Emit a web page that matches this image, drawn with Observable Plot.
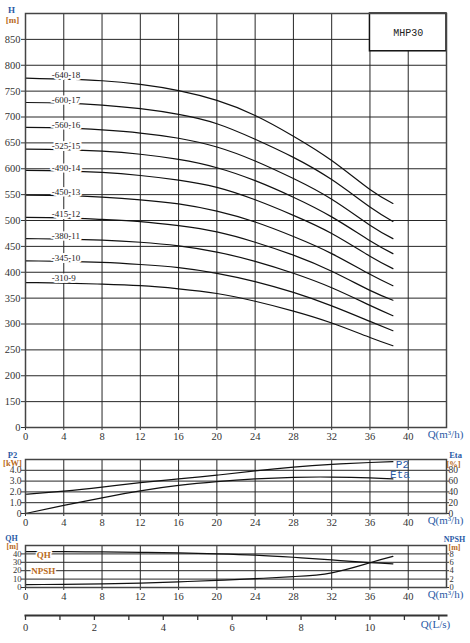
<!DOCTYPE html>
<html><head><meta charset="utf-8">
<script src="https://cdn.jsdelivr.net/npm/d3@7"></script>
<script src="https://cdn.jsdelivr.net/npm/@observablehq/plot@0.6"></script>
<style>
body{margin:0;background:#fff;}
#c{position:relative;width:470px;height:643px;overflow:hidden;}
#c > svg{position:absolute;left:0;}
</style></head><body><div id="c"></div>
<script>
// ---------- data ----------
const flowQ = [0, 4, 8, 12, 16, 20, 24, 28, 32, 36, 38.4];
const stageNames = ["-640-18","-600-17","-560-16","-525-15","-490-14","-450-13","-415-12","-380-11","-345-10","-310-9"];
const head18 = [775, 773, 770, 763, 751, 732, 703, 663, 616, 560, 533];
const head17 = [728, 727, 723, 716, 705, 687, 657, 622, 579, 526, 498];
const head16 = [680, 679, 675, 669, 659, 642, 615, 581, 541, 491, 465];
const head15 = [638, 637, 634, 628, 618, 602, 577, 545, 507, 461, 436];
const head14 = [597, 596, 593, 587, 578, 564, 540, 510, 475, 431, 407];
const head13 = [549, 548, 545, 540, 532, 518, 497, 469, 436, 396, 374];
const head12 = [506, 505, 502, 498, 490, 478, 458, 433, 402, 365, 346];
const head11 = [465, 464, 462, 458, 451, 439, 421, 398, 370, 336, 316];
const head10 = [422, 421, 419, 415, 409, 398, 382, 361, 335, 305, 287];
const head9  = [380, 379, 377, 374, 368, 359, 344, 325, 302, 274, 258];
const labelHead = [780, 733, 685, 643, 601, 554, 513, 470, 428, 388];

const powerP2 = [1.78, 2.08, 2.45, 2.85, 3.2, 3.55, 3.95, 4.3, 4.55, 4.72, 4.8];
const effEta  = [0, 15, 29, 42, 52, 59, 64, 67, 67.5, 66, 64];
const headQH  = [42.7, 42.6, 42.3, 41.9, 41.2, 40.1, 38.6, 36.0, 32.8, 29.5, 28.2];
const npshR   = [0.7, 0.75, 0.85, 1.05, 1.35, 1.7, 2.1, 2.6, 3.5, 5.9, 7.4];

const qTicks = [0, 4, 8, 12, 16, 20, 24, 28, 32, 36, 40];
const qGrid = [4, 8, 12, 16, 20, 24, 28, 32, 36, 40];
const hTicks = [100, 150, 200, 250, 300, 350, 400, 450, 500, 550, 600, 650, 700, 750, 800, 850];
const p2Ticks = [0, 1, 2, 3, 4];
const etaTicks = [0, 20, 40, 60, 80];
const qhTicks = [0, 10, 20, 30, 40];
const npshTicks = [0, 2, 4, 6, 8];
const lsTicks = [0, 1, 2, 3, 4, 5, 6, 7, 8, 9, 10, 11, 12];
const modelName = "MHP30";

// ---------- helpers ----------
const headSeries = [head18, head17, head16, head15, head14, head13, head12, head11, head10, head9];
const curves = headSeries.flatMap((arr, i) => arr.map((h, j) => ({stage: stageNames[i], q: flowQ[j], h})));
const curveLabels = stageNames.map((s, i) => ({s, h: labelHead[i]}));
const perf = flowQ.map((q, j) => ({q, p2: powerP2[j], eta: effEta[j], qh: headQH[j], npsh: npshR[j]}));

const FONT = "Liberation Serif";
const BLUE = "#2a5aa6";
const ORANGE = "#b86a22";
const GRID = "#262626";
const TXT = "#333";
const W = 470, ML = 25, MR = 24;
const c = document.getElementById("c");
function place(svg, top){ svg.style.top = top + "px"; c.appendChild(svg); }
const baseStyle = {fontFamily: FONT, fontSize: "10.5px", color: TXT, background: "white", overflow: "visible"};
const hdr = {fontSize: 9, fontWeight: "bold", textAnchor: "middle"};

// ---------- panel 1 : H-Q ----------
const p1 = Plot.plot({
  width: W, height: 445, marginTop: 13, marginBottom: 18, marginLeft: ML, marginRight: MR,
  style: baseStyle,
  x: {domain: [0, 44]}, y: {domain: [100, 900]},
  marks: [
    Plot.gridX(qGrid, {stroke: GRID, strokeOpacity: 1}),
    Plot.gridY(hTicks.slice(1), {stroke: GRID, strokeOpacity: 1}),
    Plot.axisY(hTicks, {tickFormat: d => d === 100 ? "0" : d, tickSize: 4, tickPadding: 1, label: null, fill: TXT}),
    Plot.axisX(qTicks, {tickSize: 3, tickPadding: 2, label: null, fill: TXT}),
    Plot.line(curves, {x: "q", y: "h", z: "stage", stroke: "#111", strokeWidth: 1.2, curve: "natural"}),
    Plot.text(curveLabels, {x: () => 2.75, y: "h", text: "s", textAnchor: "start", fontSize: 9, fill: "#222",
      stroke: "white", strokeWidth: 4, paintOrder: "stroke"}),
    Plot.rect([modelName], {x1: () => 36, x2: () => 44, y1: () => 827, y2: () => 900, fill: "white", stroke: "#111", strokeWidth: 1.5}),
    Plot.text([modelName], {x: () => 40, y: () => 863, text: d => d, fontFamily: "Liberation Mono", fontSize: 10, fill: "#222"}),
    Plot.frame({stroke: "#444", strokeWidth: 1.5}),
    Plot.text(["H"], {...hdr, frameAnchor: "top-left", dx: -14, dy: -7, fill: BLUE}),
    Plot.text(["[m]"], {...hdr, frameAnchor: "top-left", dx: -13, dy: 3, fill: ORANGE}),
    Plot.text(["Q(m³/h)"], {frameAnchor: "bottom-right", textAnchor: "middle", dx: -1, dy: 10, fill: BLUE, fontSize: 11})
  ]
});
place(p1, 0);

// ---------- panel 2 : P2 / Eta ----------
const p2 = Plot.plot({
  width: W, height: 85, marginTop: 14, marginBottom: 17, marginLeft: ML, marginRight: MR,
  style: baseStyle,
  x: {domain: [0, 44]}, y: {domain: [0, 5]},
  marks: [
    Plot.gridX(qGrid, {stroke: GRID, strokeOpacity: 1}),
    Plot.gridY([1, 2, 3, 4], {stroke: GRID, strokeOpacity: 1}),
    Plot.axisY(p2Ticks, {anchor: "left", tickFormat: d => d === 0 ? "0" : d.toFixed(1), tickSize: 4, tickPadding: 0, label: null, fill: TXT, fontSize: 9.5}),
    Plot.axisY(p2Ticks, {anchor: "right", tickFormat: (d, i) => etaTicks[i], tickSize: 2, tickPadding: 0, label: null, fill: TXT, fontSize: 9.5}),
    Plot.axisX(qTicks, {tickSize: 3, tickPadding: 2, label: null, fill: TXT}),
    Plot.line(perf, {x: "q", y: "p2", stroke: "#111", strokeWidth: 1.2, curve: "natural"}),
    Plot.line(perf, {x: "q", y: d => d.eta / 20, stroke: "#111", strokeWidth: 1.2, curve: "natural"}),
    Plot.text(["P2"], {x: () => 38.7, y: () => 4.5, textAnchor: "start", fill: BLUE, fontSize: 11, fontFamily: "Liberation Mono"}),
    Plot.text(["Eta"], {x: () => 38.1, y: () => 3.58, textAnchor: "start", fill: BLUE, fontSize: 11, fontFamily: "Liberation Mono"}),
    Plot.frame({stroke: "#444", strokeWidth: 1.5}),
    Plot.text(["P2"], {...hdr, fontSize: 8.5, frameAnchor: "top-left", dx: -13, dy: -8, fill: BLUE}),
    Plot.text(["[kW]"], {...hdr, fontSize: 8.5, frameAnchor: "top-left", dx: -13, dy: 0, fill: ORANGE}),
    Plot.text(["Eta"], {...hdr, fontSize: 8.5, frameAnchor: "top-right", dx: 9, dy: -8, fill: BLUE}),
    Plot.text(["[%]"], {...hdr, fontSize: 8.5, frameAnchor: "top-right", dx: 7, dy: 1, fill: ORANGE}),
    Plot.text(["Q(m³/h)"], {frameAnchor: "bottom-right", textAnchor: "middle", dx: -1, dy: 10, fill: BLUE, fontSize: 11})
  ]
});
place(p2, 445);

// ---------- panel 3 : QH / NPSH ----------
const p3 = Plot.plot({
  width: W, height: 73, marginTop: 15, marginBottom: 16, marginLeft: ML, marginRight: MR,
  style: {...baseStyle, fontSize: "8.5px"},
  x: {domain: [0, 44]}, y: {domain: [0, 50]},
  marks: [
    Plot.gridX(qGrid, {stroke: GRID, strokeOpacity: 1}),
    Plot.gridY([10, 20, 30, 40], {stroke: GRID, strokeOpacity: 1}),
    Plot.axisY(qhTicks, {anchor: "left", tickSize: 4, tickPadding: 0, label: null, fill: TXT}),
    Plot.axisY(qhTicks, {anchor: "right", tickFormat: (d, i) => npshTicks[i], tickSize: 2, tickPadding: 1, label: null, fill: TXT}),
    Plot.axisX(qTicks, {tickSize: 3, tickPadding: 2, label: null, fill: TXT, fontSize: 10.5}),
    Plot.line(perf, {x: "q", y: "qh", stroke: "#111", strokeWidth: 1.2, curve: "natural"}),
    Plot.line(perf, {x: "q", y: d => d.npsh * 5, stroke: "#111", strokeWidth: 1.2, curve: "natural"}),
    Plot.text(["QH"], {x: () => 1.9, y: () => 38, fill: ORANGE, fontSize: 9, fontWeight: "bold", stroke: "white", strokeWidth: 3, paintOrder: "stroke"}),
    Plot.text(["NPSH"], {x: () => 1.85, y: () => 19.5, fill: ORANGE, fontSize: 9, fontWeight: "bold", stroke: "white", strokeWidth: 3, paintOrder: "stroke"}),
    Plot.frame({stroke: "#444", strokeWidth: 1.5}),
    Plot.text(["QH"], {...hdr, fontSize: 8, frameAnchor: "top-left", dx: -14, dy: -10, fill: BLUE}),
    Plot.text(["[m]"], {...hdr, fontSize: 8, frameAnchor: "top-left", dx: -13, dy: -2, fill: ORANGE}),
    Plot.text(["NPSH"], {...hdr, fontSize: 8, frameAnchor: "top-right", dx: 8, dy: -9, fill: BLUE}),
    Plot.text(["[m]"], {...hdr, fontSize: 8, frameAnchor: "top-right", dx: 8, dy: -1, fill: ORANGE}),
    Plot.text(["Q(m³/h)"], {frameAnchor: "bottom-right", textAnchor: "middle", dx: -1, dy: 10, fill: BLUE, fontSize: 11})
  ]
});
place(p3, 530);

// ---------- panel 4 : Q in L/s ----------
const p4 = Plot.plot({
  width: W, height: 40, marginTop: 0, marginBottom: 28, marginLeft: ML, marginRight: MR,
  style: baseStyle,
  x: {domain: [0, 44 / 3.6]},
  marks: [
    Plot.axisX(lsTicks, {tickSize: 5, tickPadding: 3, tickFormat: d => (d % 2 === 0 && d <= 10) ? d : "", label: null, fill: TXT, strokeWidth: 1.3}),
    Plot.frame({anchor: "bottom", stroke: "#333", strokeWidth: 2}),
    Plot.text(["Q(L/s)"], {frameAnchor: "bottom-right", textAnchor: "middle", dx: -11, dy: 12, fill: BLUE, fontSize: 11})
  ]
});
place(p4, 603);
</script>
</body></html>
